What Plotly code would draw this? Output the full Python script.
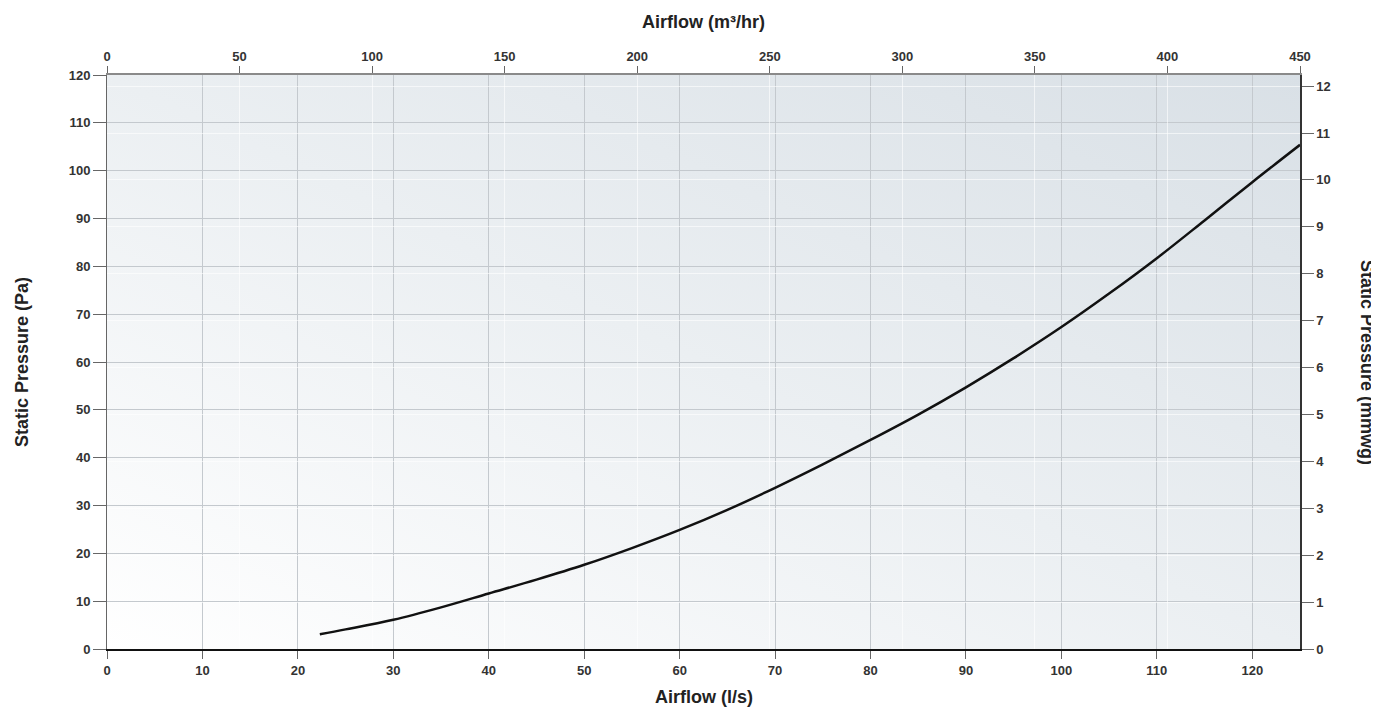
import base64
import plotly.graph_objects as go

# Data
airflow_ls = [22.3, 25, 30, 35, 40, 45, 50, 55, 60, 65, 70, 75, 80, 85, 90,
              95, 100, 105, 110, 115, 120, 125]
pressure_pa = [3.1, 4.1, 6.1, 8.7, 11.6, 14.5, 17.6, 21.1, 24.9, 29.1, 33.7,
               38.6, 43.7, 49.0, 54.7, 60.8, 67.3, 74.3, 81.7, 89.6, 97.6, 105.4]

x_range_ls = [0, 125]
x_range_m3h = [0, 450]
y_range_pa = [0, 120]
PA_PER_MMWG = 9.80665
y_range_mmwg = [0, 120 / PA_PER_MMWG]

FONT = "Liberation Sans, Arial, sans-serif"
tickfont = dict(family=FONT, size=13, color="#333333", weight="bold")
titlefont = dict(family=FONT, size=18, color="#222222", weight="bold")

svg = (
    '<svg xmlns="http://www.w3.org/2000/svg" width="100" height="100" '
    'preserveAspectRatio="none" viewBox="0 0 100 100">'
    '<defs><linearGradient id="g" x1="0" y1="1" x2="1" y2="0">'
    '<stop offset="0" stop-color="#ffffff"/>'
    '<stop offset="0.5" stop-color="#ebeff2"/>'
    '<stop offset="1" stop-color="#d9e0e6"/>'
    '</linearGradient></defs>'
    '<rect x="0" y="0" width="100" height="100" fill="url(#g)"/></svg>'
)
svg_uri = "data:image/svg+xml;base64," + base64.b64encode(svg.encode()).decode()

fig = go.Figure()
fig.add_trace(go.Scatter(
    x=airflow_ls, y=pressure_pa, mode="lines",
    line=dict(color="#111111", width=2.5, shape="spline", smoothing=1.0),
    hoverinfo="x+y", showlegend=False,
))
# invisible trace to activate secondary axes
fig.add_trace(go.Scatter(x=x_range_m3h, y=y_range_mmwg, xaxis="x2", yaxis="y2",
                         mode="markers", marker=dict(opacity=0), hoverinfo="skip",
                         showlegend=False))

fig.update_layout(
    width=1371, height=705,
    margin=dict(l=99, r=79, t=67, b=64),
    paper_bgcolor="white",
    plot_bgcolor="rgba(0,0,0,0)",
    images=[dict(source=svg_uri, xref="paper", yref="paper", x=0, y=1,
                 sizex=1, sizey=1, sizing="stretch", layer="below",
                 xanchor="left", yanchor="top")],
    xaxis=dict(range=x_range_ls, dtick=10, tick0=0, showline=True,
               linecolor="#111111", linewidth=2, ticks="outside", ticklen=8,
               tickcolor="#666666", showgrid=True, gridcolor="#c4c9ce",
               gridwidth=1, zeroline=False, tickfont=tickfont),
    xaxis2=dict(range=x_range_m3h, dtick=50, tick0=0, overlaying="x",
                side="top", showline=True, linecolor="#8a8a8a", linewidth=2,
                ticks="outside", ticklen=7, tickcolor="#666666",
                showgrid=True, gridcolor="rgba(255,255,255,0.6)", gridwidth=1,
                zeroline=False, tickfont=tickfont),
    yaxis=dict(range=y_range_pa, dtick=10, tick0=0, showline=True,
               linecolor="#666666", linewidth=1, ticks="outside", ticklen=13,
               tickcolor="#666666", showgrid=True, gridcolor="#c4c9ce",
               gridwidth=1, zeroline=False, tickfont=tickfont),
    yaxis2=dict(range=y_range_mmwg, dtick=1, tick0=0, overlaying="y",
                side="right", showline=True, linecolor="#333333", linewidth=1.5,
                ticks="outside", ticklen=12, tickcolor="#666666",
                showgrid=True, gridcolor="rgba(255,255,255,0.6)", gridwidth=1,
                zeroline=False, tickfont=tickfont),
    annotations=[
        dict(text="Airflow (l/s)", xref="paper", yref="paper", x=0.5, y=0,
             yshift=-48, showarrow=False, yanchor="middle", font=titlefont),
        dict(text="Airflow (m³/hr)", xref="paper", yref="paper", x=0.5, y=1,
             yshift=53, showarrow=False, yanchor="middle", font=titlefont),
        dict(text="Static Pressure (Pa)", xref="paper", yref="paper", x=0,
             xshift=-85, y=0.5, textangle=-90, showarrow=False,
             xanchor="center", font=titlefont),
        dict(text="Static Pressure (mmwg)", xref="paper", yref="paper", x=1,
             xshift=67, y=0.5, textangle=90, showarrow=False,
             xanchor="center", font=titlefont),
    ],
)

fig.write_html("out.html")
